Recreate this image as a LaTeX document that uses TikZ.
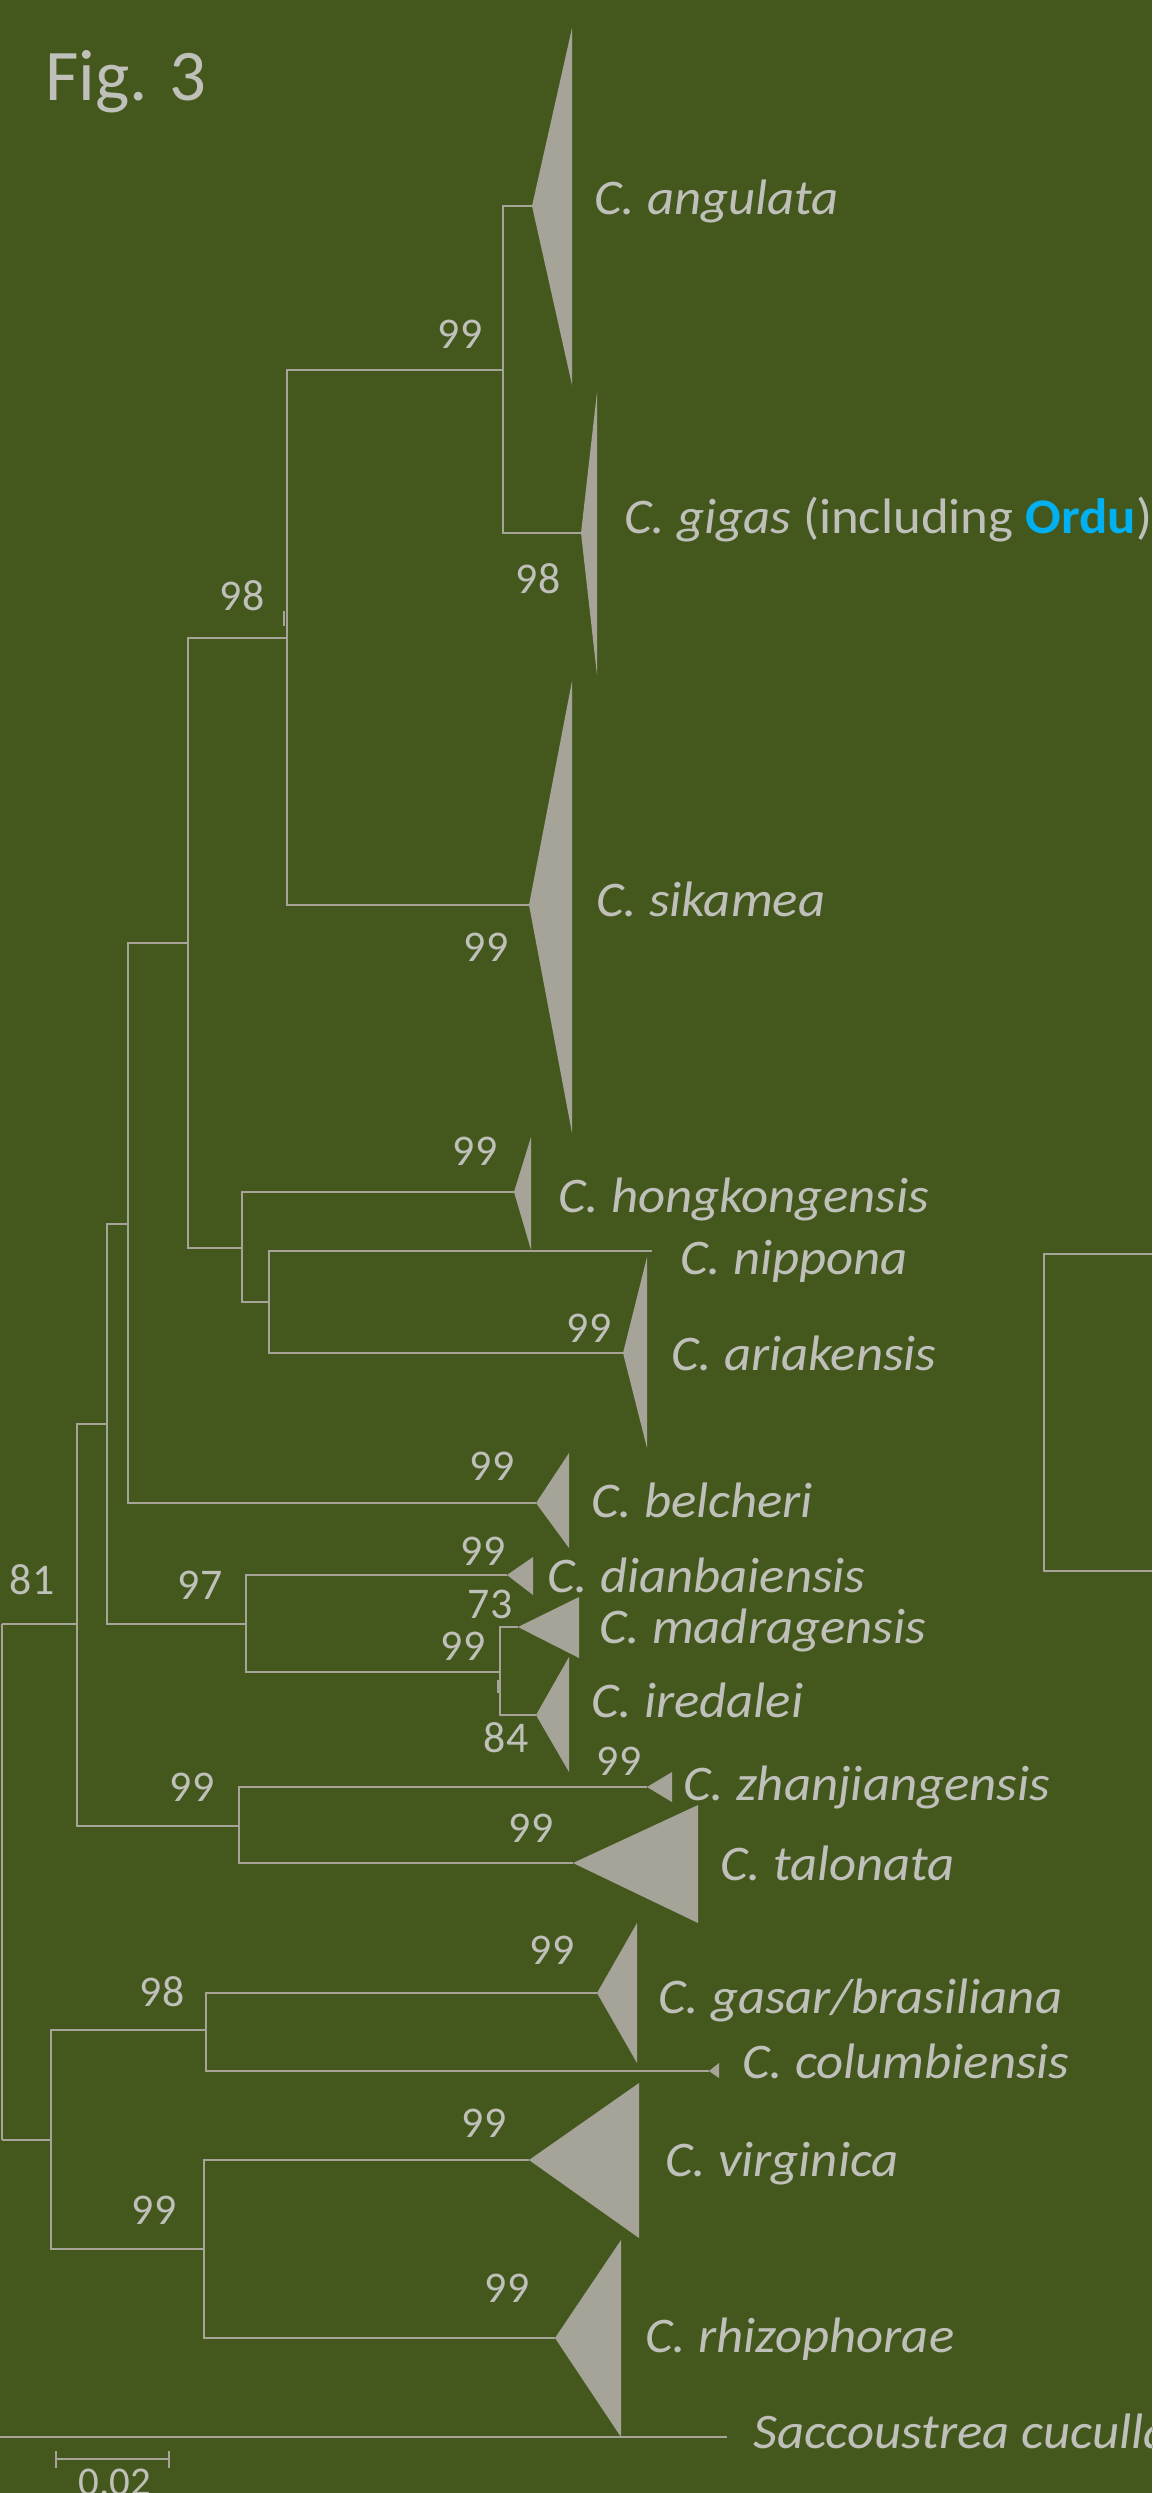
\documentclass[tikz,border=0pt]{standalone}
\usepackage{fontspec}
\setmainfont{Carlito}
\definecolor{bg}{RGB}{68,88,30}
\definecolor{br}{RGB}{166,163,152}
\definecolor{tx}{RGB}{192,192,186}
\definecolor{ordu}{RGB}{0,176,240}
\newcommand{\stretchlab}[1]{\scalebox{1.06}[1]{#1}}
\tikzset{
  branch/.style={draw=br, line width=2.4bp},
  tick/.style={draw=br, line width=1.2bp},
  clade/.style={fill=br},
  taxon/.style={anchor=base west, inner sep=0pt, text=tx, font=\fontsize{50}{60}\selectfont\itshape},
  boot/.style={anchor=center, inner sep=0pt, text=tx, font=\fontsize{44}{52}\selectfont},
}
\begin{document}
\begin{tikzpicture}[x=1bp,y=-1bp]
\fill[bg] (0,0) rectangle (1152,2493);
\useasboundingbox (0,0) rectangle (1152,2493);

\node[anchor=base west, inner sep=0pt, text=tx, font=\fontsize{73}{80}\selectfont] (fig) at (45,100) {Fig. 3};

% internal nodes
\coordinate (R)    at (2,1624);
\coordinate (N81)  at (77,1624);
\coordinate (N6)   at (107,1424);
\coordinate (N5)   at (128,1224);
\coordinate (N4)   at (188,943);
\coordinate (N98)  at (287,638);
\coordinate (N99a) at (503,370);
\coordinate (N241) at (242,1248);
\coordinate (N268) at (269,1302);
\coordinate (N97)  at (246,1624);
\coordinate (N99m) at (500,1672);
\coordinate (N99t) at (239,1826);
\coordinate (N51)  at (51,2140);
\coordinate (N98g) at (206,2030);
\coordinate (N99v) at (204,2249);
\coordinate (Rl)   at (2,2140);
\coordinate (Sout) at (0,2437);
% clade apices
\coordinate (ang) at (532,206);
\coordinate (gig) at (581,533);
\coordinate (sik) at (529,905);
\coordinate (hon) at (514,1192);
\coordinate (nip) at (652,1251);
\coordinate (ari) at (623,1353);
\coordinate (bel) at (536,1503);
\coordinate (dia) at (507,1575);
\coordinate (mad) at (518,1627);
\coordinate (ire) at (536,1715);
\coordinate (zha) at (647,1787);
\coordinate (tal) at (573,1863);
\coordinate (gas) at (597,1993);
\coordinate (col) at (709,2071);
\coordinate (vir) at (529,2160);
\coordinate (rhi) at (555,2338);
\coordinate (sac) at (727,2437);

% branches
\draw[branch] (R) -- (Rl);
\draw[branch] (R) -- (N81);
\draw[branch] (Rl) -- (N51);
\draw[branch] (N6) -| (N81) |- (N99t);
\draw[branch] (N5) -| (N6) |- (N97);
\draw[branch] (N4) -| (N5) |- (bel);
\draw[branch] (N98) -| (N4) |- (N241);
\draw[branch] (N99a) -| (N98) |- (sik);
\draw[branch] (ang) -| (N99a) |- (gig);
\draw[branch] (hon) -| (N241) |- (N268);
\draw[branch] (nip) -| (N268) |- (ari);
\draw[branch] (dia) -| (N97) |- (N99m);
\draw[branch] (mad) -| (N99m) |- (ire);
\draw[branch] (zha) -| (N99t) |- (tal);
\draw[branch] (N98g) -| (N51) |- (N99v);
\draw[branch] (gas) -| (N98g) |- (col);
\draw[branch] (vir) -| (N99v) |- (rhi);
\draw[branch] (Sout) -- (sac);
\draw[tick] (284,611) -- (284,626);
\draw[tick] (498,1680) -- (498,1693);

% collapsed clades
\fill[clade] (ang) -- (572,28) -- (572,385) -- cycle;
\fill[clade] (gig) -- (597,392) -- (597,675) -- cycle;
\fill[clade] (sik) -- (572,681) -- (572,1133) -- cycle;
\fill[clade] (hon) -- (531,1137) -- (531,1250) -- cycle;
\fill[clade] (ari) -- (647,1257) -- (647,1448) -- cycle;
\fill[clade] (bel) -- (569,1453) -- (569,1548) -- cycle;
\fill[clade] (dia) -- (533,1557) -- (533,1595) -- cycle;
\fill[clade] (mad) -- (579,1597) -- (579,1658) -- cycle;
\fill[clade] (ire) -- (569,1657) -- (569,1772) -- cycle;
\fill[clade] (zha) -- (672,1772) -- (672,1802) -- cycle;
\fill[clade] (tal) -- (698,1805) -- (698,1923) -- cycle;
\fill[clade] (gas) -- (637,1923) -- (637,2063) -- cycle;
\fill[clade] (col) -- (719,2063) -- (719,2078) -- cycle;
\fill[clade] (vir) -- (639,2083) -- (639,2238) -- cycle;
\fill[clade] (rhi) -- (621,2240) -- (621,2437) -- cycle;

% taxon labels
\node[taxon] (Lang) at (594,214) {\stretchlab{C. angulata}};
\node[taxon] (Lgig) at (624,533) {\stretchlab{C. gigas\upshape{} (including \textbf{\color{ordu}Ordu})}};
\node[taxon] (Lsik) at (596,916) {\stretchlab{C. sikamea}};
\node[taxon] (Lhon) at (558,1212) {\stretchlab{C. hongkongensis}};
\node[taxon] (Lnip) at (680,1274) {\stretchlab{C. nippona}};
\node[taxon] (Lari) at (671,1370) {\stretchlab{C. ariakensis}};
\node[taxon] (Lbel) at (591,1517) {\stretchlab{C. belcheri}};
\node[taxon] (Ldia) at (547,1592) {\stretchlab{C. dianbaiensis}};
\node[taxon] (Lmad) at (599,1643) {\stretchlab{C. madragensis}};
\node[taxon] (Lire) at (591,1717) {\stretchlab{C. iredalei}};
\node[taxon] (Lzha) at (683,1800) {\stretchlab{C. zhanjiangensis}};
\node[taxon] (Ltal) at (720,1880) {\stretchlab{C. talonata}};
\node[taxon] (Lgas) at (658,2013) {\stretchlab{C. gasar/brasiliana}};
\node[taxon] (Lcol) at (742,2078) {\stretchlab{C. columbiensis}};
\node[taxon] (Lvir) at (665,2176) {\stretchlab{C. virginica}};
\node[taxon] (Lrhi) at (645,2352) {\stretchlab{C. rhizophorae}};
\node[taxon] (Lsac) at (753,2448) {\stretchlab{Saccoustrea cucullata}};

% bootstrap values
\node[boot] (b1)  at (460,334)  {99};
\node[boot] (b2)  at (538,579)  {98};
\node[boot] (b3)  at (242,596)  {98};
\node[boot] (b4)  at (486,947)  {99};
\node[boot] (b5)  at (475,1151) {99};
\node[boot] (b6)  at (589,1328) {99};
\node[boot] (b7)  at (492,1466) {99};
\node[boot] (b8)  at (32,1580)  {81};
\node[boot] (b9)  at (200,1585) {97};
\node[boot] (b10) at (483,1551) {99};
\node[boot] (b11) at (490,1604) {73};
\node[boot] (b12) at (463,1646) {99};
\node[boot] (b13) at (506,1738) {84};
\node[boot] (b14) at (619,1761) {99};
\node[boot] (b15) at (192,1787) {99};
\node[boot] (b16) at (531,1828) {99};
\node[boot] (b17) at (552,1950) {99};
\node[boot] (b18) at (162,1992) {98};
\node[boot] (b19) at (154,2210) {99};
\node[boot] (b20) at (484,2123) {99};
\node[boot] (b21) at (507,2288) {99};

% scale bar
\coordinate (s1) at (56,2459);
\coordinate (s2) at (169,2459);
\draw[branch, line width=2bp] (s1) -- (s2);
\draw[branch, line width=2bp] ([yshift=8bp]s1) -- ([yshift=-9bp]s1);
\draw[branch, line width=2bp] ([yshift=8bp]s2) -- ([yshift=-9bp]s2);
\node[anchor=base, inner sep=0pt, text=tx, font=\fontsize{41}{48}\selectfont] (sb) at (115,2495) {0.02};

% partial frame at right
\coordinate (f1) at (1152,1254);
\coordinate (f2) at (1044,1254);
\coordinate (f3) at (1044,1571);
\coordinate (f4) at (1152,1571);
\draw[branch, line width=2.7bp] (f1) -- (f2) -- (f3) -- (f4);
\end{tikzpicture}
\end{document}
